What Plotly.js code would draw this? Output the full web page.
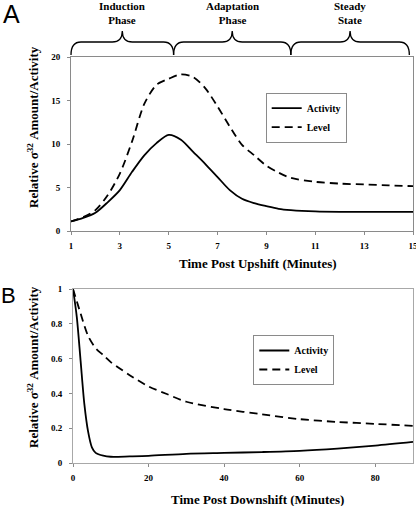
<!DOCTYPE html>
<html>
<head>
<meta charset="utf-8">
<script src="https://cdn.plot.ly/plotly-3.0.1.min.js"></script>
<style>html,body{margin:0;padding:0;background:#fff;}#chart{width:416px;height:506px;}</style>
</head>
<body>
<div id="chart"></div>
<script>
// Panel A: upshift
const upTime = [1, 1.5, 2, 2.5, 3, 3.5, 4, 4.5, 5, 5.5, 6, 6.5, 7, 7.5, 8, 8.5, 9, 9.5, 10, 11, 12, 13, 14, 15];
const upActivity = [1.1, 1.5, 2.1, 3.3, 4.7, 6.8, 8.7, 10.1, 11.05, 10.5, 9.1, 7.7, 6.2, 4.7, 3.7, 3.2, 2.85, 2.55, 2.4, 2.25, 2.2, 2.2, 2.2, 2.2];
const upLevel = [1.1, 1.6, 2.4, 4.1, 6.6, 10.3, 14.6, 16.8, 17.5, 18.0, 17.7, 16.4, 14.3, 12.0, 9.9, 8.7, 7.5, 6.7, 6.1, 5.65, 5.45, 5.35, 5.25, 5.15];
const upTicks = [1, 3, 5, 7, 9, 11, 13, 15];

// Panel B: downshift
const downTime = [0, 1, 2, 3, 4, 5, 6, 8, 10, 15, 20, 30, 40, 50, 60, 70, 80, 90];
const downActivity = [1.0, 0.84, 0.59, 0.34, 0.18, 0.09, 0.058, 0.042, 0.036, 0.038, 0.041, 0.053, 0.058, 0.063, 0.07, 0.083, 0.1, 0.121];
const downLevelTime = [0, 2, 4, 6, 8, 10, 15, 20, 25, 30, 40, 50, 60, 70, 80, 90];
const downLevel = [1.0, 0.86, 0.73, 0.66, 0.62, 0.58, 0.505, 0.44, 0.395, 0.352, 0.31, 0.28, 0.252, 0.236, 0.225, 0.213];
const downTicks = [0, 20, 40, 60, 80];
const downYTicks = [0, 0.2, 0.4, 0.6, 0.8, 1];

// Phases (panel A braces)
const phaseNames = ["Induction<br>Phase", "Adaptation<br>Phase", "Steady<br>State"];
const phaseStart = [1, 5.2, 10];
const phaseEnd = [5.2, 10, 14.85];

const W = 416, H = 506;
const px = x => x / W;
const py = y => 1 - y / H;

const xDomA = [px(71), px(413)];
const yDomA = [py(231), py(57)];
const xDomB = [px(73), px(413)];
const yDomB = [py(463), py(289)];

const serifBold = {family: "Liberation Serif, Times New Roman, serif", color: "#000", weight: "bold"};
const f = (size) => Object.assign({}, serifBold, {size: size});

const solid = {color: "#000", width: 1.8, shape: "spline", smoothing: 0.8};
const dashed = {color: "#000", width: 1.8, dash: "8px,5px", shape: "spline", smoothing: 0.8};

const traces = [
  {x: upTime, y: upActivity, name: "Activity", mode: "lines", line: solid, xaxis: "x", yaxis: "y", legend: "legend"},
  {x: upTime, y: upLevel, name: "Level", mode: "lines", line: dashed, xaxis: "x", yaxis: "y", legend: "legend"},
  {x: downTime, y: downActivity, name: "Activity", mode: "lines", line: solid, xaxis: "x2", yaxis: "y2", legend: "legend2"},
  {x: downLevelTime, y: downLevel, name: "Level", mode: "lines", line: dashed, xaxis: "x2", yaxis: "y2", legend: "legend2"}
];

const axisCommon = {
  showgrid: false, zeroline: false, showline: true, mirror: true,
  linecolor: "#8a8a8a", linewidth: 1, ticks: "outside", ticklen: 3,
  tickcolor: "#8a8a8a", tickfont: f(9), fixedrange: true,
  ticklabeloverflow: "allow", ticklabelstandoff: 3
};

// Braces
const shapes = [];
const xdA = x => xDomA[0] + (x - 1) / 14 * (xDomA[1] - xDomA[0]);
const yb = py(55), ym = py(42), yt = py(31);
const d = 10 / W;
const annotations = [];
for (let i = 0; i < phaseNames.length; i++) {
  const x0 = xdA(phaseStart[i]), x1 = xdA(phaseEnd[i]), xm = (x0 + x1) / 2;
  const path = `M ${x0},${yb} Q ${x0},${ym} ${x0 + d},${ym} L ${xm - d},${ym} Q ${xm},${ym} ${xm},${yt} ` +
               `M ${xm},${yt} Q ${xm},${ym} ${xm + d},${ym} L ${x1 - d},${ym} Q ${x1},${ym} ${x1},${yb}`;
  shapes.push({type: "path", xref: "paper", yref: "paper", path: path, line: {color: "#000", width: 1.3}});
  annotations.push({text: phaseNames[i], xref: "paper", yref: "paper", x: xm, y: py(13), xanchor: "center", yanchor: "middle", showarrow: false, font: f(11)});
}

annotations.push(
  {text: "A", xref: "paper", yref: "paper", x: px(11.5), y: py(14.5), xanchor: "center", yanchor: "middle", showarrow: false, font: {family: "Liberation Sans, Arial, sans-serif", size: 25, color: "#000"}},
  {text: "B", xref: "paper", yref: "paper", x: px(8.5), y: py(295), xanchor: "center", yanchor: "middle", showarrow: false, font: {family: "Liberation Sans, Arial, sans-serif", size: 22, color: "#000"}},
  {text: "Relative σ<sup>32</sup> Amount/Activity", xref: "paper", yref: "paper", x: px(33), y: py(127), textangle: -90, xanchor: "center", yanchor: "middle", showarrow: false, font: f(13)},
  {text: "Relative σ<sup>32</sup> Amount/Activity", xref: "paper", yref: "paper", x: px(33), y: py(367), textangle: -90, xanchor: "center", yanchor: "middle", showarrow: false, font: f(13)},
  {text: "Time Post Upshift (Minutes)", xref: "paper", yref: "paper", x: px(257.5), y: py(263), xanchor: "center", yanchor: "middle", showarrow: false, font: f(13)},
  {text: "Time Post Downshift (Minutes)", xref: "paper", yref: "paper", x: px(257.5), y: py(499), xanchor: "center", yanchor: "middle", showarrow: false, font: f(13)}
);

const legendStyle = {
  bgcolor: "#fff", bordercolor: "#8a8a8a", borderwidth: 1, font: f(10),
  xanchor: "left", yanchor: "top", tracegroupgap: 0, itemwidth: 30
};

const layout = {
  width: W, height: H,
  margin: {l: 0, r: 0, t: 0, b: 0},
  paper_bgcolor: "#fff", plot_bgcolor: "#fff",
  showlegend: true,
  xaxis: Object.assign({}, axisCommon, {domain: xDomA, range: [1, 15], tickvals: upTicks, anchor: "y"}),
  yaxis: Object.assign({}, axisCommon, {domain: yDomA, range: [0, 20], dtick: 5, anchor: "x", ticklabelstandoff: 5}),
  xaxis2: Object.assign({}, axisCommon, {domain: xDomB, range: [0, 90], tickvals: downTicks, anchor: "y2", linecolor: "#a8a8a8"}),
  yaxis2: Object.assign({}, axisCommon, {domain: yDomB, range: [0, 1], tickvals: downYTicks, anchor: "x2", linecolor: "#a8a8a8", ticklabelstandoff: 5}),
  legend: Object.assign({}, legendStyle, {x: px(265.7), y: py(92.7)}),
  legend2: Object.assign({}, legendStyle, {x: px(253.3), y: py(335)}),
  shapes: shapes,
  annotations: annotations
};

Plotly.newPlot("chart", traces, layout, {displayModeBar: false, staticPlot: true});
</script>
</body>
</html>
